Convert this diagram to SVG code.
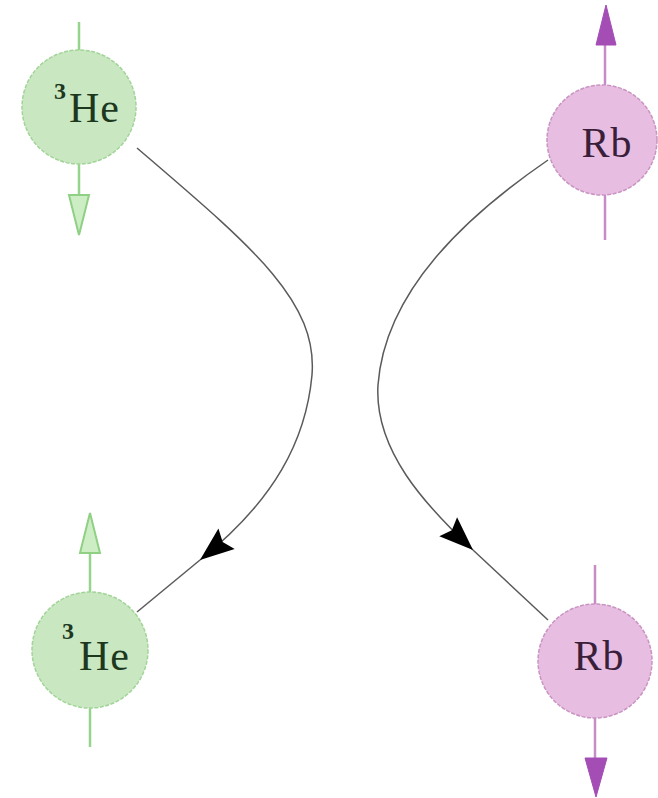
<svg xmlns="http://www.w3.org/2000/svg" width="658" height="798" viewBox="0 0 658 798">
<style>
.he{fill:#c9e8c2;stroke:#a2d498;stroke-width:1.5;stroke-dasharray:4 1.5}
.rb{fill:#e8bde2;stroke:#c994c2;stroke-width:1.5;stroke-dasharray:4 1.5}
.gl{stroke:#96d48c;stroke-width:2.5;fill:none}
.pl{stroke:#c68cc6;stroke-width:2.5;fill:none}
.ga{fill:#cdeec4;stroke:#8fd084;stroke-width:2}
.pa{fill:#a34db5;stroke:#a34db5;stroke-width:1}
.t{font-family:"Liberation Serif","Times New Roman",serif}
.th{fill:#1e381e}
.tr{fill:#3a1f3a}
.c{fill:none;stroke:#5a5a5a;stroke-width:1.5}
</style>
<defs>
<marker id="ah" markerUnits="userSpaceOnUse" viewBox="-36 -16 38 32" refX="0" refY="0" markerWidth="38" markerHeight="32" orient="auto">
<path d="M0,0 L-34,-13 L-29,0 L-34,13 Z" fill="#000"/>
</marker>
</defs>
<g id="connectors">
<path class="c" d="M137,148 C250,245 318,300 312,375 C306,440 275,500 200,560" marker-end="url(#ah)"/>
<path class="c" d="M200,560 L137,612"/>
<path class="c" d="M548,160 C468,215 385,290 378,385 C374,450 425,505 473,550" marker-end="url(#ah)"/>
<path class="c" d="M473,550 L548,620"/>
</g>
<g id="he-top">
<line class="gl" x1="79" y1="22" x2="79" y2="50"/>
<line class="gl" x1="79" y1="164" x2="79" y2="200"/>
<polygon class="ga" points="79,235 69,195 89,195"/>
<circle class="he" cx="79" cy="107" r="57"/>
<text class="t th" x="54" y="99" font-size="24" font-weight="bold">3</text>
<text class="t th" x="69" y="122" font-size="42" letter-spacing="1">He</text>
</g>
<g id="rb-top">
<line class="pl" x1="605" y1="40" x2="605" y2="85"/>
<line class="pl" x1="605" y1="195" x2="605" y2="240"/>
<polygon class="pa" points="606,5 596,45 616,45"/>
<circle class="rb" cx="602" cy="140" r="55"/>
<text class="t tr" x="607" y="157" font-size="42" text-anchor="middle" letter-spacing="1">Rb</text>
</g>
<g id="he-bottom">
<line class="gl" x1="90" y1="550" x2="90" y2="592"/>
<line class="gl" x1="90" y1="708" x2="90" y2="747"/>
<polygon class="ga" points="90,513 80,553 100,553"/>
<circle class="he" cx="90" cy="650" r="58"/>
<text class="t th" x="62" y="639" font-size="24" font-weight="bold">3</text>
<text class="t th" x="79" y="670" font-size="42" letter-spacing="1">He</text>
</g>
<g id="rb-bottom">
<line class="pl" x1="595" y1="565" x2="595" y2="604"/>
<line class="pl" x1="595" y1="718" x2="595" y2="762"/>
<polygon class="pa" points="596,797 585,758 607,758"/>
<circle class="rb" cx="595" cy="661" r="57"/>
<text class="t tr" x="599" y="670" font-size="42" text-anchor="middle" letter-spacing="1">Rb</text>
</g>
</svg>
